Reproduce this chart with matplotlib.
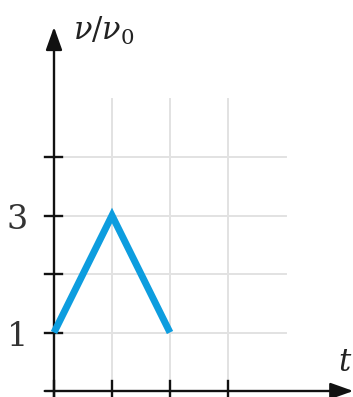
import matplotlib
matplotlib.use("Agg")
from matplotlib import pyplot as plt

# speed ratio over time (grid units)
t_values = [0, 1, 2]
v_values = [1, 3, 1]
y_tick_pos = [1, 2, 3, 4]
y_tick_labels = {1: "1", 3: "3"}
x_tick_pos = [0, 1, 2, 3]
grid_x = [1, 2, 3]
grid_y = [1, 2, 3, 4]

plt.rcParams["mathtext.fontset"] = "dejavuserif"
plt.rcParams["font.family"] = "DejaVu Serif"

fig = plt.figure(figsize=(3.53, 3.97), dpi=100)
ax = fig.add_axes([0, 0, 1, 1])
# map pixels: x = 54 + 58 t, y = 391 - 58.5 v
ax.set_xlim(-54 / 58, 299 / 58)
ax.set_ylim(-6 / 58.5, 391 / 58.5)
ax.axis("off")

grid_c = "#e2e2e2"
for gx in grid_x:
    ax.plot([gx, gx], [0, 5], color=grid_c, lw=1.4, zorder=1)
for gy in grid_y:
    ax.plot([0, 4], [gy, gy], color=grid_c, lw=1.4, zorder=1)

# axes with arrows
arrow = dict(arrowstyle="-|>,head_length=1.4,head_width=0.5",
             color="#111111", lw=1.7, shrinkA=0, shrinkB=0)
ax.annotate("", xy=(5.16, 0), xytext=(-0.16, 0), arrowprops=arrow, zorder=3)
ax.annotate("", xy=(0, (391 - 27) / 58.5), xytext=(0, -0.2),
            arrowprops=arrow, zorder=3)

for tx in x_tick_pos:
    ax.plot([tx, tx], [-0.2, 0.17], color="#111111", lw=1.7, zorder=3)
for ty in y_tick_pos:
    ax.plot([-0.15, 0.14], [ty, ty], color="#111111", lw=1.7, zorder=3)
    if ty in y_tick_labels:
        ax.text(-0.45, ty - 0.07, y_tick_labels[ty], ha="right", va="center",
                fontsize=24, color="#333333")

ax.plot(t_values, v_values, color="#0d9ddf", lw=5.0,
        solid_joinstyle="miter", solid_capstyle="butt", zorder=4)

ax.text(0.32, 6.0, r"$\nu/\nu_0$", fontsize=22, color="#222222",
        ha="left", va="baseline")
ax.text(5.15, 0.34, r"$t$", fontsize=22, color="#222222",
        ha="right", va="baseline")

fig.savefig("out.png", dpi=100)
